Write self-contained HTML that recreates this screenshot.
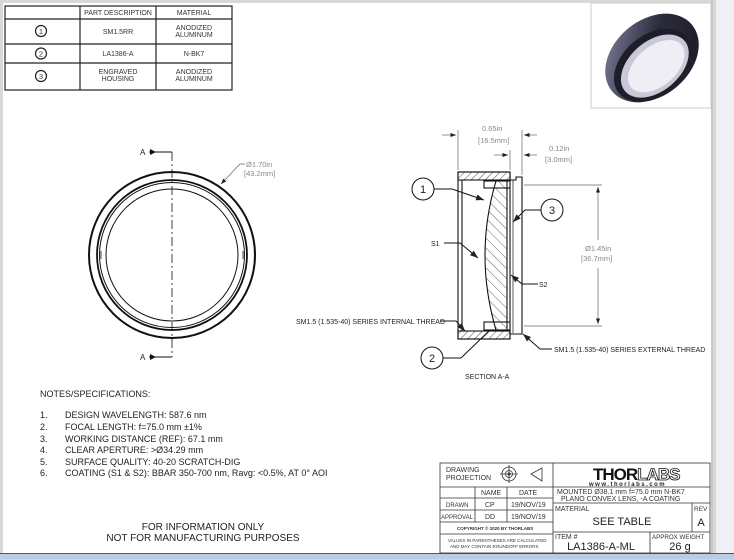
<!DOCTYPE html>
<html><head><meta charset="utf-8"><style>
html,body{margin:0;padding:0;width:734px;height:559px;overflow:hidden;background:#eef0f5}
svg{display:block;font-family:"Liberation Sans",sans-serif}
</style></head><body>
<svg width="734" height="559" viewBox="0 0 734 559" xmlns="http://www.w3.org/2000/svg">
<defs>
<pattern id="h" width="7" height="7" patternUnits="userSpaceOnUse" patternTransform="rotate(-45)"><line x1="0" y1="0" x2="0" y2="7" stroke="#222" stroke-width="0.7"/></pattern>
<pattern id="h2" width="5" height="5" patternUnits="userSpaceOnUse" patternTransform="rotate(45)"><line x1="0" y1="0" x2="0" y2="5" stroke="#222" stroke-width="0.8"/></pattern>
<marker id="ar" markerWidth="8" markerHeight="6" refX="8" refY="3" orient="auto"><path d="M0,0 L8,3 L0,6z" fill="#222"/></marker>
<linearGradient id="rg" x1="0" y1="0" x2="1" y2="1"><stop offset="0" stop-color="#8a8aa8"/><stop offset="0.5" stop-color="#2a2a3a"/><stop offset="1" stop-color="#1a1a24"/></linearGradient>
</defs>
<rect x="0" y="0" width="734" height="559" fill="#eef0f5"/>
<rect x="0" y="0" width="716" height="554" fill="#d8d8d8"/>
<rect x="3" y="3" width="708" height="550" fill="#fff"/>
<line x1="712" y1="0" x2="712" y2="554" stroke="#bbb"/>
<rect x="0" y="554" width="734" height="5" fill="#b8cde4"/>
<line x1="0" y1="553.5" x2="734" y2="553.5" stroke="#555"/>

<!-- parts table -->
<g stroke="#222" stroke-width="1.2" fill="none">
<rect x="5" y="6" width="227" height="84"/>
<line x1="80" y1="6" x2="80" y2="90"/><line x1="156" y1="6" x2="156" y2="90"/>
<line x1="5" y1="19" x2="232" y2="19"/><line x1="5" y1="44" x2="232" y2="44"/><line x1="5" y1="63" x2="232" y2="63"/>
<circle cx="41" cy="31" r="5.5"/><circle cx="41" cy="53.5" r="5.5"/><circle cx="41" cy="76" r="5.5"/>
</g>
<g font-size="7" fill="#333" text-anchor="middle">
<text x="118" y="15">PART DESCRIPTION</text><text x="194" y="15">MATERIAL</text>
<text x="41" y="34" font-size="7.5">1</text><text x="41" y="56.5" font-size="7.5">2</text><text x="41" y="79" font-size="7.5">3</text>
<text x="118" y="34">SM1.5RR</text><text x="194" y="30">ANODIZED</text><text x="194" y="37">ALUMINUM</text>
<text x="118" y="56">LA1386-A</text><text x="194" y="56">N-BK7</text>
<text x="118" y="74">ENGRAVED</text><text x="118" y="81">HOUSING</text><text x="194" y="74">ANODIZED</text><text x="194" y="81">ALUMINUM</text>
</g>

<!-- photo -->
<rect x="591" y="3" width="120" height="105" fill="#fff" stroke="#ccc"/>
<g transform="translate(652,58) rotate(-40)">
<ellipse cx="0" cy="0" rx="52" ry="38" fill="url(#rg)"/>
<ellipse cx="-4" cy="6" rx="44" ry="30" fill="#1e1e2a"/>
<ellipse cx="-3" cy="8" rx="39" ry="25" fill="#c8c8d6"/>
<ellipse cx="-2" cy="9" rx="33" ry="20" fill="#eeeef4"/>
</g>

<!-- front view -->
<g fill="none" stroke="#111">
<circle cx="172" cy="255" r="83" stroke-width="2"/>
<circle cx="172" cy="255" r="75" stroke-width="1.8"/>
<circle cx="172" cy="255" r="72.5" stroke-width="1"/>
<circle cx="172" cy="255" r="66" stroke-width="1"/>
<line x1="172" y1="152" x2="172" y2="357" stroke-width="0.8" stroke-dasharray="9,3,2,3"/>
<line x1="149" y1="152" x2="172" y2="152"/><line x1="149" y1="357" x2="172" y2="357"/>
<path d="M245 164 L240 164 L221 184" stroke="#666" stroke-width="0.7" marker-end="url(#ar)"/>
<line x1="101" y1="251" x2="101" y2="259" stroke-width="0.8"/><line x1="243" y1="251" x2="243" y2="259" stroke-width="0.8"/>
</g>
<path d="M150 149 L156 152 L150 155z M150 354 L156 357 L150 360z" fill="#111"/>
<text x="140" y="155" font-size="8" fill="#222">A</text><text x="140" y="360" font-size="8" fill="#222">A</text>
<text x="246" y="167" font-size="7.5" fill="#888">Ø1.70in</text><text x="244" y="176" font-size="7.5" fill="#888">[43.2mm]</text>

<!-- section view -->
<g stroke="#111" stroke-width="1.1">
<rect x="458" y="172" width="52" height="8" fill="url(#h2)"/>
<rect x="458" y="331" width="52" height="8" fill="url(#h2)"/>
<rect x="458" y="172" width="52" height="167" fill="none"/>
<line x1="462" y1="180" x2="462" y2="331"/>
<rect x="484" y="181" width="26" height="7" fill="#fff"/>
<rect x="484" y="322" width="26" height="8" fill="#fff"/>
<path d="M496 181 Q474 255 496 330 L507 330 L507 181 Z" fill="url(#h)"/>
<path d="M510 180 L516 180 L516 177 L522 177 L522 334 L516 334 L510 334" fill="none"/>
<line x1="513" y1="180" x2="513" y2="333" stroke-width="0.7"/>
</g>
<g stroke="#666" stroke-width="0.7" fill="none">
<line x1="458" y1="130" x2="458" y2="170"/><line x1="522" y1="130" x2="522" y2="175"/><line x1="510" y1="150" x2="510" y2="170"/>
<line x1="442" y1="135" x2="456" y2="135" marker-end="url(#ar)"/><line x1="537" y1="135" x2="524" y2="135" marker-end="url(#ar)"/>
<line x1="494" y1="155" x2="508" y2="155" marker-end="url(#ar)"/><line x1="537" y1="155" x2="524" y2="155" marker-end="url(#ar)"/>
<line x1="524" y1="185" x2="602" y2="185"/><line x1="524" y1="326" x2="602" y2="326"/>
<line x1="598" y1="240" x2="598" y2="187" marker-end="url(#ar)"/><line x1="598" y1="268" x2="598" y2="324" marker-end="url(#ar)"/>
</g>
<g font-size="7.5" fill="#888">
<text x="482" y="131">0.65in</text><text x="478" y="143">[16.5mm]</text>
<text x="549" y="151">0.12in</text><text x="545" y="162">[3.0mm]</text>
<text x="585" y="251">Ø1.45in</text><text x="581" y="261">[36.7mm]</text>
</g>
<g stroke="#111" stroke-width="1" fill="none">
<circle cx="423" cy="189" r="11"/><circle cx="552" cy="210" r="11"/><circle cx="432" cy="358" r="11"/>
<path d="M434 189 L452 189 L484 200" marker-end="url(#ar)"/>
<path d="M541 210 L525 210 L513 222" marker-end="url(#ar)"/>
<path d="M443 358 L461 358 L490 330"/>
<path d="M444 243 L460 243 L478 258" marker-end="url(#ar)"/>
<path d="M522 284 L511 275" marker-end="url(#ar)"/><line x1="522" y1="284" x2="538" y2="284"/>
<path d="M440 321 L456 321 L465 331" marker-end="url(#ar)"/>
<path d="M552 349 L540 349 L523 334" marker-end="url(#ar)"/>
</g>
<g font-size="11" fill="#222" text-anchor="middle"><text x="423" y="193">1</text><text x="552" y="214">3</text><text x="432" y="362">2</text></g>
<g font-size="7" fill="#222">
<text x="431" y="246">S1</text><text x="539" y="287">S2</text>
<text x="296" y="324">SM1.5 (1.535-40) SERIES INTERNAL THREAD</text>
<text x="554" y="352">SM1.5 (1.535-40) SERIES EXTERNAL THREAD</text>
<text x="465" y="379">SECTION A-A</text>
</g>

<!-- notes -->
<g font-size="9" fill="#222">
<text x="40" y="397">NOTES/SPECIFICATIONS:</text>
<text x="40" y="418">1.</text><text x="65" y="418">DESIGN WAVELENGTH: 587.6 nm</text>
<text x="40" y="430">2.</text><text x="65" y="430">FOCAL LENGTH: f=75.0 mm ±1%</text>
<text x="40" y="442">3.</text><text x="65" y="442">WORKING DISTANCE (REF): 67.1 mm</text>
<text x="40" y="453">4.</text><text x="65" y="453">CLEAR APERTURE: &gt;Ø34.29 mm</text>
<text x="40" y="465">5.</text><text x="65" y="465">SURFACE QUALITY: 40-20 SCRATCH-DIG</text>
<text x="40" y="476">6.</text><text x="65" y="476">COATING (S1 &amp; S2): BBAR 350-700 nm, Ravg: &lt;0.5%, AT 0° AOI</text>
</g>
<g font-size="10" fill="#222" text-anchor="middle"><text x="203" y="530">FOR INFORMATION ONLY</text><text x="203" y="541">NOT FOR MANUFACTURING PURPOSES</text></g>

<!-- title block -->
<g stroke="#333" stroke-width="0.8" fill="none">
<rect x="440" y="463" width="270" height="90"/>
<line x1="553" y1="463" x2="553" y2="553"/>
<line x1="440" y1="487" x2="553" y2="487"/><line x1="440" y1="498" x2="553" y2="498"/><line x1="440" y1="510" x2="553" y2="510"/><line x1="440" y1="522" x2="553" y2="522"/><line x1="440" y1="534" x2="553" y2="534"/>
<line x1="475" y1="487" x2="475" y2="522"/><line x1="507" y1="487" x2="507" y2="522"/>
<line x1="553" y1="487" x2="710" y2="487"/><line x1="553" y1="503" x2="710" y2="503"/><line x1="553" y1="532" x2="710" y2="532"/>
<line x1="692" y1="503" x2="692" y2="532"/><line x1="650" y1="532" x2="650" y2="553"/>
<circle cx="509" cy="474" r="7"/><circle cx="509" cy="474" r="3.5"/>
<line x1="500" y1="474" x2="518" y2="474"/><line x1="509" y1="465" x2="509" y2="483"/>
<path d="M531 474 L542 468 L542 481 Z"/>
</g>
<circle cx="509" cy="474" r="1.5" fill="#333"/>
<g font-size="7" fill="#333">
<text x="446" y="472">DRAWING</text><text x="446" y="480">PROJECTION</text>
<text x="481" y="495">NAME</text><text x="519" y="495">DATE</text>
<text x="446" y="507" font-size="6">DRAWN</text><text x="485" y="507">CP</text><text x="511" y="507">19/NOV/19</text>
<text x="441" y="519" font-size="6">APPROVAL</text><text x="485" y="519">DD</text><text x="511" y="519">19/NOV/19</text>
<text x="457" y="530" font-size="4.5" font-weight="bold">COPYRIGHT © 2020 BY THORLABS</text>
<text x="448" y="542" font-size="4.5">VALUES IN PARENTHESES ARE CALCULATED</text><text x="450" y="548" font-size="4.5">AND MAY CONTAIN ROUNDOFF ERRORS</text>
<text x="557" y="494" font-size="7">MOUNTED Ø38.1 mm f=75.0 mm N-BK7</text>
<text x="561" y="501" font-size="7">PLANO CONVEX LENS, -A COATING</text>
<text x="555" y="511">MATERIAL</text><text x="694" y="511" font-size="6.5">REV</text>
<text x="555" y="539">ITEM #</text><text x="652" y="539" font-size="6.2">APPROX WEIGHT</text>
</g>
<text x="593" y="480" font-size="17" font-weight="bold" fill="#111" letter-spacing="-1">THOR<tspan fill="#fff" stroke="#111" stroke-width="0.8">LABS</tspan></text>
<text x="589" y="486" font-size="6" fill="#222" letter-spacing="1.5" font-weight="bold">www.thorlabs.com</text>
<g font-size="11" fill="#222" text-anchor="middle">
<text x="622" y="525">SEE TABLE</text><text x="701" y="526">A</text>
<text x="601" y="550">LA1386-A-ML</text><text x="680" y="550">26 g</text>
</g>
</svg>
</body></html>
